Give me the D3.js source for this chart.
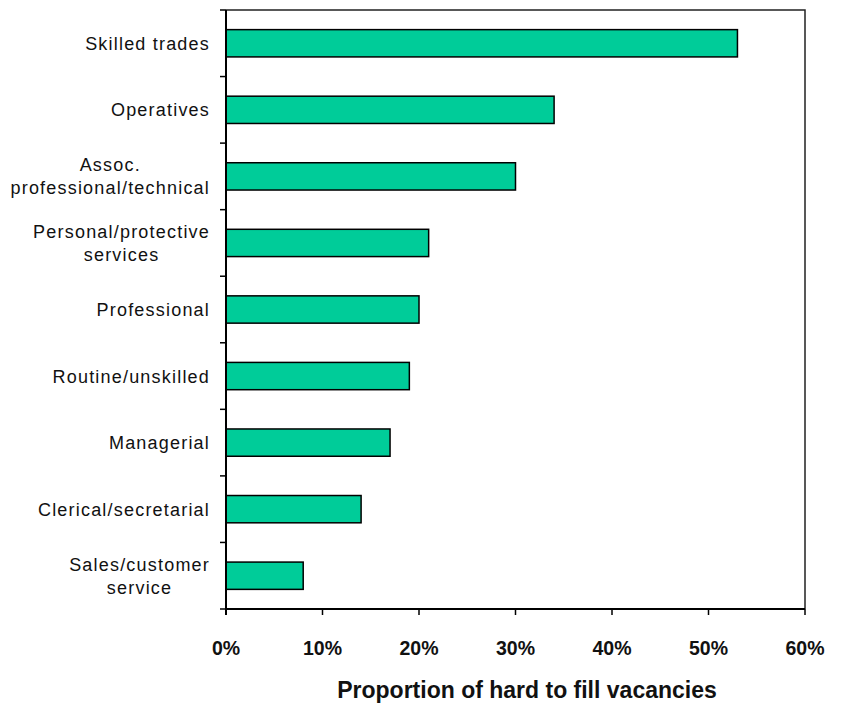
<!DOCTYPE html>
<html>
<head>
<meta charset="utf-8">
<script src="https://cdn.jsdelivr.net/npm/d3@7"></script>
<style>
  html, body { margin: 0; padding: 0; background: #fff; }
  svg { display: block; font-family: "Liberation Sans", Arial, sans-serif; }
</style>
</head>
<body>
<svg id="chart" width="843" height="709"></svg>
<script>
// Occupations, top to bottom, with their share of hard-to-fill vacancies (%)
const categories = [
  ["Skilled trades"],
  ["Operatives"],
  ["Assoc.", "professional/technical"],
  ["Personal/protective", "services"],
  ["Professional"],
  ["Routine/unskilled"],
  ["Managerial"],
  ["Clerical/secretarial"],
  ["Sales/customer", "service"]
];
const values = [53, 34, 30, 21, 20, 19, 17, 14, 8];
const xTicks = [0, 10, 20, 30, 40, 50, 60];
const xTitle = "Proportion of hard to fill vacancies";

const svg = d3.select("#chart");
const margin = { left: 226, right: 38, top: 10, bottom: 100 };
const W = 843, H = 709;
const plotW = W - margin.left - margin.right;
const plotH = H - margin.top - margin.bottom;

const g = svg.append("g").attr("transform", `translate(${margin.left},${margin.top})`);

const x = d3.scaleLinear().domain([0, 60]).range([0, plotW]);
const y = d3.scaleBand().domain(d3.range(categories.length)).range([0, plotH])
  .paddingInner(0.59).paddingOuter(0.295);
const yEdges = d3.scaleLinear().domain([0, categories.length]).range([0, plotH]);

// plot frame (top and right)
g.append("path")
  .attr("d", `M0,0H${plotW}V${plotH}`)
  .attr("fill", "none").attr("stroke", "#222").attr("stroke-width", 1.5);

// bars
g.selectAll("rect.bar").data(values).join("rect")
  .attr("class", "bar")
  .attr("x", 0)
  .attr("y", (d, i) => y(i))
  .attr("width", d => x(d))
  .attr("height", y.bandwidth())
  .attr("fill", "#00CC99")
  .attr("stroke", "#000").attr("stroke-width", 1.5);

// y axis with ticks at category boundaries
const yAxis = g.append("g");
yAxis.append("line").attr("x1", 0).attr("x2", 0).attr("y1", 0).attr("y2", plotH + 6)
  .attr("stroke", "#000").attr("stroke-width", 2);
yAxis.selectAll("line.tk").data(d3.range(categories.length + 1)).join("line")
  .attr("class", "tk")
  .attr("x1", -6).attr("x2", 0)
  .attr("y1", d => yEdges(d)).attr("y2", d => yEdges(d))
  .attr("stroke", "#000").attr("stroke-width", 1.5);

// category labels: each block right-aligned to the axis, lines centred within it
const lineH = 23;
const labelRight = -16;
categories.forEach((lines, i) => {
  const cy = y(i) + y.bandwidth() / 2;
  const t = g.append("text")
    .attr("text-anchor", "middle")
    .attr("font-size", 18)
    .attr("letter-spacing", 1.2)
    .attr("fill", "#111");
  const lw = lines.length;
  const spans = lines.map((s, k) => t.append("tspan")
    .attr("y", cy + (k - (lw - 1) / 2) * lineH + 6.5)
    .text(s));
  const widest = d3.max(spans, sp => sp.node().getComputedTextLength());
  spans.forEach(sp => sp.attr("x", labelRight - widest / 2));
});

// x axis
const xAxisG = g.append("g").attr("transform", `translate(0,${plotH})`);
xAxisG.append("line").attr("x1", 0).attr("x2", plotW).attr("stroke", "#000").attr("stroke-width", 2);
xAxisG.selectAll("line.tk").data(xTicks).join("line")
  .attr("class", "tk")
  .attr("x1", d => x(d)).attr("x2", d => x(d))
  .attr("y1", 0).attr("y2", 6)
  .attr("stroke", "#000").attr("stroke-width", 1.5);
xAxisG.selectAll("text").data(xTicks).join("text")
  .attr("x", d => x(d))
  .attr("y", 46)
  .attr("text-anchor", "middle")
  .attr("font-size", 19.5)
  .attr("font-weight", "bold")
  .attr("fill", "#111")
  .text(d => d + "%");

// axis title
svg.append("text")
  .attr("x", 527)
  .attr("y", 698)
  .attr("text-anchor", "middle")
  .attr("font-size", 23)
  .attr("font-weight", "bold")
  .attr("fill", "#111")
  .text(xTitle);
</script>
</body>
</html>
